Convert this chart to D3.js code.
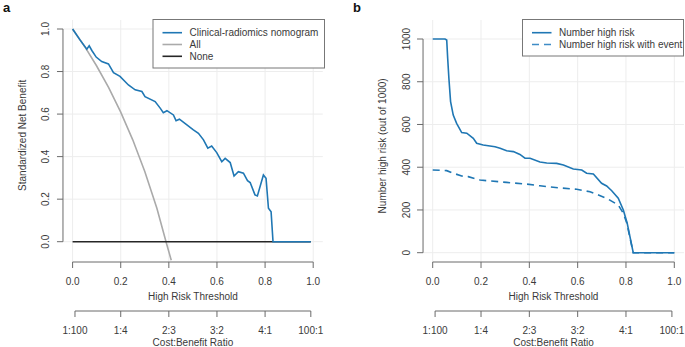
<!DOCTYPE html>
<html>
<head>
<meta charset="utf-8">
<script src="https://cdn.jsdelivr.net/npm/d3@7"></script>
<style>
  body { margin: 0; background: #fff; }
  svg text { font-family: "Liberation Sans", Arial, sans-serif; fill: #3a3a3a; }
</style>
</head>
<body>
<script>
// panel a: standardized net benefit
var nomoT  = [0, .03, .059, .069, .08, .098, .121, .149, .170, .197, .232, .26, .288, .301, .343, .364, .377, .392, .419, .43, .444, .475, .502, .523, .544, .562, .578, .599, .62, .634, .655, .671, .689, .71, .727, .738, .758, .768, .793, .804, .814, .825, .833, .99];
var nomoNB = [1.0, .95, .905, .921, .899, .868, .847, .836, .795, .777, .737, .714, .706, .682, .659, .628, .607, .616, .596, .569, .576, .549, .526, .51, .479, .44, .45, .419, .376, .392, .372, .309, .329, .322, .287, .278, .22, .215, .314, .298, .157, .141, 0, 0];
var allT  = [0, .05, .1, .15, .2, .25, .3, .35, .39, .41];
var allNB = [1.0, .918, .826, .724, .609, .479, .330, .158, -.007, -.087];
var noneT  = [0, .99];
var noneNB = [0, 0];

// panel b: number high risk (out of 1000)
var highT = [0, .051, .058, .062, .067, .074, .085, .099, .12, .141, .168, .182, .209, .258, .279, .306, .334, .361, .382, .403, .444, .472, .513, .541, .582, .617, .637, .665, .699, .72, .741, .768, .789, .805, .83, 1.0];
var highN = [1000, 1000, 995, 910, 816, 707, 644, 605, 562, 559, 535, 512, 504, 496, 489, 477, 473, 460, 442, 442, 424, 420, 418, 410, 392, 387, 372, 368, 325, 312, 290, 255, 200, 138, 0, 0];
var eventT = [0, .058, .085, .12, .147, .196, .306, .389, .444, .527, .596, .651, .686, .727, .768, .789, .803, .83, 1.0];
var eventN = [387, 384, 372, 359, 356, 340, 329, 321, 313, 303, 297, 285, 270, 250, 223, 185, 140, 0, 0];

var thresholdTicks = [0, 0.2, 0.4, 0.6, 0.8, 1.0];
var ratioTicks  = [1 / 101, 0.2, 0.4, 0.6, 0.8, 100 / 101];
var ratioLabels = ["1:100", "1:4", "2:3", "3:2", "4:1", "100:1"];
var nbTicks = [0, 0.2, 0.4, 0.6, 0.8, 1.0];
var nTicks  = [0, 200, 400, 600, 800, 1000];

var blue = "#1f77b4", axisCol = "#6a6a6a", gridCol = "#ededed";
var fs = 10;

var svg = d3.select("body").append("svg")
    .attr("width", 685)
    .attr("height", 347);

function zip(xs, ys) { return xs.map(function (x, i) { return [x, ys[i]]; }); }

function panel(opt) {
    var g = svg.append("g");
    var x = d3.scaleLinear().domain([0, 1]).range(opt.xr);
    var y = d3.scaleLinear().domain(opt.yd).range(opt.yr);
    var left = x(-0.04), right = x(1.04), top = 20, bottom = 262;

    g.append("clipPath").attr("id", opt.id)
        .append("rect").attr("x", left).attr("y", top)
        .attr("width", right - left).attr("height", bottom - top);

    // grid
    g.selectAll(".vg").data(thresholdTicks).enter().append("line")
        .attr("x1", x).attr("x2", x).attr("y1", top).attr("y2", bottom)
        .attr("stroke", gridCol);
    g.selectAll(".hg").data(opt.yTicks).enter().append("line")
        .attr("x1", left).attr("x2", right).attr("y1", y).attr("y2", y)
        .attr("stroke", gridCol);

    // y axis
    g.append("line").attr("x1", left).attr("x2", left)
        .attr("y1", y(opt.yTicks[0])).attr("y2", y(opt.yTicks[opt.yTicks.length - 1]))
        .attr("stroke", axisCol);
    g.selectAll(".yt").data(opt.yTicks).enter().append("line")
        .attr("x1", left - 6).attr("x2", left).attr("y1", y).attr("y2", y)
        .attr("stroke", axisCol);
    g.selectAll(".yl").data(opt.yTicks).enter().append("text")
        .attr("transform", function (d) { return "translate(" + (left - 13.5) + "," + y(d) + ") rotate(-90)"; })
        .attr("text-anchor", "middle").attr("font-size", fs)
        .text(opt.yFmt);
    g.append("text")
        .attr("transform", "translate(" + (left - 37) + "," + ((y(opt.yTicks[0]) + y(opt.yTicks[opt.yTicks.length - 1])) / 2) + ") rotate(-90)")
        .attr("text-anchor", "middle").attr("font-size", fs)
        .text(opt.yTitle);

    // threshold axis
    g.append("line").attr("x1", x(0)).attr("x2", x(1)).attr("y1", bottom).attr("y2", bottom).attr("stroke", axisCol);
    g.selectAll(".xt").data(thresholdTicks).enter().append("line")
        .attr("x1", x).attr("x2", x).attr("y1", bottom).attr("y2", bottom + 6).attr("stroke", axisCol);
    g.selectAll(".xl").data(thresholdTicks).enter().append("text")
        .attr("x", x).attr("y", 285).attr("text-anchor", "middle").attr("font-size", fs)
        .text(d3.format(".1f"));
    g.append("text").attr("x", x(0.5)).attr("y", 300).attr("text-anchor", "middle").attr("font-size", fs)
        .text("High Risk Threshold");

    // cost:benefit axis
    g.append("line").attr("x1", x(ratioTicks[0])).attr("x2", x(ratioTicks[5]))
        .attr("y1", 311).attr("y2", 311).attr("stroke", axisCol);
    g.selectAll(".rt").data(ratioTicks).enter().append("line")
        .attr("x1", x).attr("x2", x).attr("y1", 311).attr("y2", 317).attr("stroke", axisCol);
    g.selectAll(".rl").data(ratioTicks).enter().append("text")
        .attr("x", x).attr("y", 333.5).attr("text-anchor", "middle").attr("font-size", fs)
        .text(function (d, i) { return ratioLabels[i]; });
    g.append("text").attr("x", x(0.5)).attr("y", 346).attr("text-anchor", "middle").attr("font-size", fs)
        .text("Cost:Benefit Ratio");

    // curves
    var line = d3.line().x(function (d) { return x(d[0]); }).y(function (d) { return y(d[1]); });
    var lines = g.append("g").attr("clip-path", "url(#" + opt.id + ")");
    opt.series.forEach(function (s) {
        lines.append("path").datum(zip(s.t, s.v))
            .attr("d", line).attr("fill", "none")
            .attr("stroke", s.color).attr("stroke-width", 1.6)
            .attr("stroke-dasharray", s.dash || null);
    });

    // legend
    var lg = opt.legend;
    g.append("rect").attr("x", lg.x).attr("y", 19.5).attr("width", lg.w).attr("height", lg.h)
        .attr("fill", "#fff").attr("stroke", "#777").attr("stroke-width", 1);
    lg.items.forEach(function (it, i) {
        var yy = 32.7 + i * 11.8;
        g.append("line").attr("x1", lg.x + 9.5).attr("x2", lg.x + 29)
            .attr("y1", yy).attr("y2", yy)
            .attr("stroke", it.color).attr("stroke-width", 1.6)
            .attr("stroke-dasharray", it.dash || null);
        g.append("text").attr("x", lg.x + 36.5).attr("y", yy + 3.6).attr("font-size", fs).text(it.label);
    });

    svg.append("text").attr("x", opt.tag[0]).attr("y", opt.tag[1])
        .attr("font-size", 13).attr("font-weight", "bold").style("fill", "#111").text(opt.tagText);
}

panel({
    id: "clipA", xr: [72.6, 313.2], yd: [0, 1], yr: [241.7, 29],
    yTicks: nbTicks, yFmt: d3.format(".1f"), yTitle: "Standardized Net Benefit",
    series: [
        { t: allT, v: allNB, color: "#aaaaaa" },
        { t: noneT, v: noneNB, color: "#262626" },
        { t: nomoT, v: nomoNB, color: blue }
    ],
    legend: { x: 153, w: 171.5, h: 48.5, items: [
        { label: "Clinical-radiomics nomogram", color: blue },
        { label: "All", color: "#aaaaaa" },
        { label: "None", color: "#262626" }
    ] },
    tag: [3, 12], tagText: "a"
});

panel({
    id: "clipB", xr: [432.7, 674.3], yd: [0, 1000], yr: [252.7, 39],
    yTicks: nTicks, yFmt: function (d) { return d; }, yTitle: "Number high risk (out of 1000)",
    series: [
        { t: eventT, v: eventN, color: blue, dash: "7,5" },
        { t: highT, v: highN, color: blue }
    ],
    legend: { x: 522.5, w: 161, h: 36.5, items: [
        { label: "Number high risk", color: blue },
        { label: "Number high risk with event", color: "#3f8cc6", dash: "7,5" }
    ] },
    tag: [353, 12], tagText: "b"
});
</script>
</body>
</html>
